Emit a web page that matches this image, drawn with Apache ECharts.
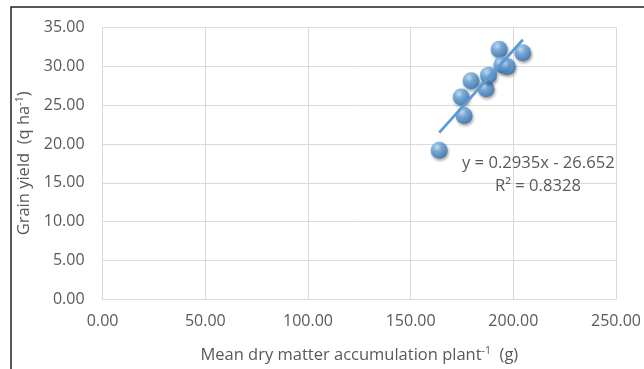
<!DOCTYPE html>
<html>
<head>
<meta charset="utf-8">
<script src="https://cdn.jsdelivr.net/npm/echarts@6/dist/echarts.min.js"></script>
<style>
html,body{margin:0;padding:0;background:#fff;}
#chart{width:644px;height:369px;}
</style>
</head>
<body>
<div id="chart"></div>
<script>
// Data
const dryMatter = [163.9, 176.0, 174.6, 179.4, 186.7, 187.9, 193.1, 194.4, 197.1, 204.6];
const grainYield = [19.18, 23.67, 26.03, 28.12, 27.09, 28.85, 32.18, 30.17, 29.95, 31.74];
const trendSlope = 0.2935;
const trendIntercept = -26.652;
const equationLines = ['y = 0.2935x - 26.652', 'R² = 0.8328'];
const xTicks = [0, 50, 100, 150, 200, 250];
const yTicks = [0, 5, 10, 15, 20, 25, 30, 35];

const FONT = 'Open Sans';
const TXT = '#595959';

const points = dryMatter.map((x, i) => [x, grainYield[i]]);
const xMin = Math.min(...dryMatter), xMax = Math.max(...dryMatter);
const trend = [[xMin, trendSlope * xMin + trendIntercept], [xMax, trendSlope * xMax + trendIntercept]];

const chart = echarts.init(document.getElementById('chart'));
chart.setOption({
  animation: false,
  backgroundColor: '#fff',
  grid: {left: 102.6, right: 27.5, top: 27.3, bottom: 68.7},
  xAxis: {
    type: 'value', min: xTicks[0], max: xTicks[xTicks.length - 1], interval: 50,
    axisLine: {show: false}, axisTick: {show: false},
    splitLine: {show: true, lineStyle: {color: '#d9d9d9', width: 1}},
    axisLabel: {color: TXT, fontFamily: FONT, fontSize: 16, margin: 14, formatter: v => v.toFixed(2)},
    name: '{t|Mean dry matter accumulation plant}{s|-1}{t|  (g)}',
    nameLocation: 'middle', nameGap: 46,
    nameTextStyle: {
      rich: {
        t: {color: TXT, fontFamily: FONT, fontSize: 16.5},
        s: {color: TXT, fontFamily: FONT, fontSize: 10.5, padding: [0, 0, 9, 0]}
      }
    }
  },
  yAxis: {
    type: 'value', min: yTicks[0], max: yTicks[yTicks.length - 1], interval: 5,
    axisLine: {show: false}, axisTick: {show: false},
    splitLine: {show: true, lineStyle: {color: '#d9d9d9', width: 1}},
    axisLabel: {color: TXT, fontFamily: FONT, fontSize: 16, margin: 18, formatter: v => v.toFixed(2)},
    name: '{t|Grain yield  (q ha}{s|-1}{t|)}',
    nameLocation: 'middle', nameGap: 66, nameRotate: 90,
    nameTextStyle: {
      rich: {
        t: {color: TXT, fontFamily: FONT, fontSize: 16.5},
        s: {color: TXT, fontFamily: FONT, fontSize: 10.5, padding: [0, 0, 9, 0]}
      }
    }
  },
  graphic: [
    {type: 'rect', shape: {x: 11, y: 7, width: 800, height: 600}, style: {fill: 'none', stroke: '#222', lineWidth: 1.5}, silent: true},
    {type: 'text', left: 462, top: 155, style: {text: equationLines[0], fill: TXT, font: '16.6px "Open Sans"'}, z: 10},
    {type: 'text', left: 495, top: 178, style: {text: equationLines[1], fill: TXT, font: '16.6px "Open Sans"'}, z: 10}
  ],
  series: [
    {
      type: 'scatter', data: points, symbol: 'circle', symbolSize: 17, z: 2,
      itemStyle: {
        color: {type: 'radial', x: 0.38, y: 0.32, r: 0.75, colorStops: [
          {offset: 0, color: '#cfe4f8'}, {offset: 0.35, color: '#6aa8e0'}, {offset: 0.8, color: '#3f7fc0'}, {offset: 1, color: '#2a5f95'}]},
        shadowBlur: 3, shadowColor: 'rgba(0,0,0,0.45)', shadowOffsetY: 2, shadowOffsetX: 1
      }
    },
    {
      type: 'line', data: trend, symbol: 'none', z: 3,
      lineStyle: {color: '#5b9bd5', width: 2.75}
    }
  ]
});
</script>
</body>
</html>
